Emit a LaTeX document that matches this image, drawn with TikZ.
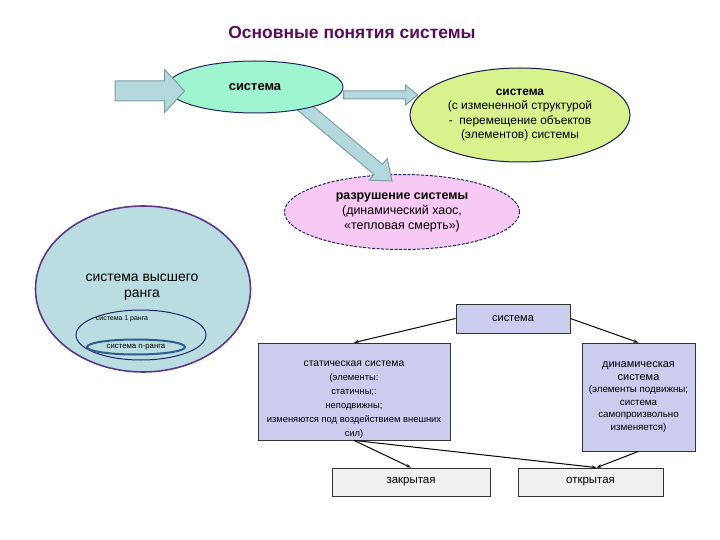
\documentclass[tikz,border=0pt]{standalone}
\usepackage{fontspec}
\setmainfont{Liberation Sans}
\usetikzlibrary{calc,arrows.meta,shapes.geometric}

\definecolor{titlecol}{HTML}{5A0A5C}
\definecolor{navy}{HTML}{1E2566}
\definecolor{mintfill}{HTML}{9EF5CF}
\definecolor{limefill}{HTML}{D8F28E}
\definecolor{pinkfill}{HTML}{F8C9F4}
\definecolor{rankfill}{HTML}{B9DDE0}
\definecolor{rankline}{HTML}{5E3689}
\definecolor{innerline}{HTML}{2F5D8C}
\definecolor{lavender}{HTML}{CCCCEE}
\definecolor{arrowfill}{HTML}{B3D8DE}
\definecolor{arrowdraw}{HTML}{7D9EA5}

\begin{document}
\begin{tikzpicture}[>=Stealth, x=1bp, y=-1bp,
  oval/.style={ellipse, inner sep=0pt, line width=1bp, align=center},
  typebox/.style={draw=black!80, fill=lavender, line width=0.8bp, inner sep=0pt, align=center},
  kindbox/.style={draw=black!80, fill=black!6, line width=0.8bp, inner sep=0pt,
    font=\fontsize{11.5}{13}\selectfont},
  link/.style={->, line width=1bp, >={Stealth[length=5bp,width=3.5bp]}},
  fatarrow/.style={fill=arrowfill, draw=arrowdraw, line width=1bp, line join=miter}]
  \useasboundingbox (0,0) rectangle (720,540);
  % block arrow: tail, tip, shaft half width, head half width, head length
  \newcommand{\blockarrow}[5]{%
    \coordinate (base) at ($(#2)!#5!(#1)$);
    \filldraw[fatarrow] ($(#1)!#3!90:(#2)$) -- ($(base)!#3!90:(#2)$) -- ($(base)!#4!90:(#2)$)
      -- (#2) -- ($(base)!#4!-90:(#2)$) -- ($(base)!#3!-90:(#2)$) -- ($(#1)!#3!-90:(#2)$) -- cycle;
  }
  \node[font=\bfseries\fontsize{17.5}{19}\selectfont, text=titlecol] (title) at (352,33)
    {Основные понятия системы};
  % ---------------------------------------------------------------- upper row
  \node[oval, draw=navy, fill=pinkfill, dash pattern=on 3bp off 1.5bp,
    minimum width=235bp, minimum height=75bp, font=\fontsize{12.5}{15}\selectfont] (ruin) at (402,212)
    {\textbf{разрушение системы}\\(динамический хаос,\\«тепловая смерть»)};
  \coordinate (diagtail) at (292,97);
  \coordinate (diagtip) at ($(ruin.north)+(-10,7)$);
  \blockarrow{diagtail}{diagtip}{6.5bp}{14bp}{18bp}
  \node[oval, draw=navy, fill=mintfill, minimum width=176bp, minimum height=52bp,
    font=\bfseries\fontsize{13}{15}\selectfont] (sys) at (255,87) {система};
  \node[oval, draw=navy!70!black, fill=limefill, minimum width=220bp, minimum height=94bp,
    font=\fontsize{12}{14.3}\selectfont] (changed) at (520,115)
    {\textbf{система}\\(с измененной структурой\\-\ \ перемещение объектов\\(элементов) системы};
  \coordinate (feed) at (115,91);
  \coordinate (feedtip) at ($(sys.west)+(18,4)$);
  \blockarrow{feed}{feedtip}{10bp}{21.5bp}{20bp}
  \coordinate (midtail) at ($(sys.east)+(0,8)$);
  \coordinate (midtip) at ($(changed.west)+(8,-20)$);
  \blockarrow{midtail}{midtip}{4bp}{10bp}{12bp}
  % ---------------------------------------------------------------- ranks
  \node[oval, draw=rankline, fill=rankfill, line width=1.6bp, minimum width=215bp,
    minimum height=166bp] (higher) at (143,289) {};
  \node[font=\fontsize{14}{16}\selectfont, align=center] (highertext) at (142,287)
    {система высшего\\ранга};
  \node[oval, draw=navy, minimum width=130bp, minimum height=50bp] (rank1) at (141,335) {};
  \node[font=\fontsize{7}{8}\selectfont] (rank1text) at (122,319) {система 1 ранга};
  \node[oval, draw=innerline, line width=2bp, minimum width=98bp, minimum height=15bp,
    font=\fontsize{7.8}{9}\selectfont] (rankn) at (136,347) {система n-ранга};
  % ---------------------------------------------------------------- classification
  \node[typebox, minimum width=114bp, minimum height=29bp, font=\fontsize{11}{13}\selectfont]
    (kind) at (513,318.5) {система};
  \node[typebox, minimum width=192bp, minimum height=97bp] (static) at (354,391.5) {};
  \node[font=\fontsize{9.4}{14}\selectfont, align=center] (statictext) at (354,400)
    {{\fontsize{10.4}{14}\selectfont статическая система}\\(элементы:\\статичны;:\\неподвижны;\\
     изменяются под воздействием внешних\\сил)};
  \node[typebox, minimum width=113bp, minimum height=108bp, font=\fontsize{9.8}{12.6}\selectfont]
    (dynamic) at (638.5,397)
    {{\fontsize{11}{12.6}\selectfont динамическая}\\{\fontsize{11}{12.6}\selectfont система}\\
     (элементы подвижны;\\система\\самопроизвольно\\изменяется)};
  \node[kindbox, minimum width=158bp, minimum height=28bp] (closed) at (411,482) {закрытая};
  \node[kindbox, minimum width=145bp, minimum height=28bp] (open) at (590.5,482) {открытая};
  \coordinate (openin) at ($(open.north)+(6,0)$);
  \draw[link] (kind.west) -- (static.north);
  \draw[link] (kind.east) -- (dynamic.north);
  \draw[link] (static.south) -- (closed.north);
  \draw[link] (static.south) -- (openin);
  \draw[link] (dynamic.south) -- (openin);
\end{tikzpicture}
\end{document}
